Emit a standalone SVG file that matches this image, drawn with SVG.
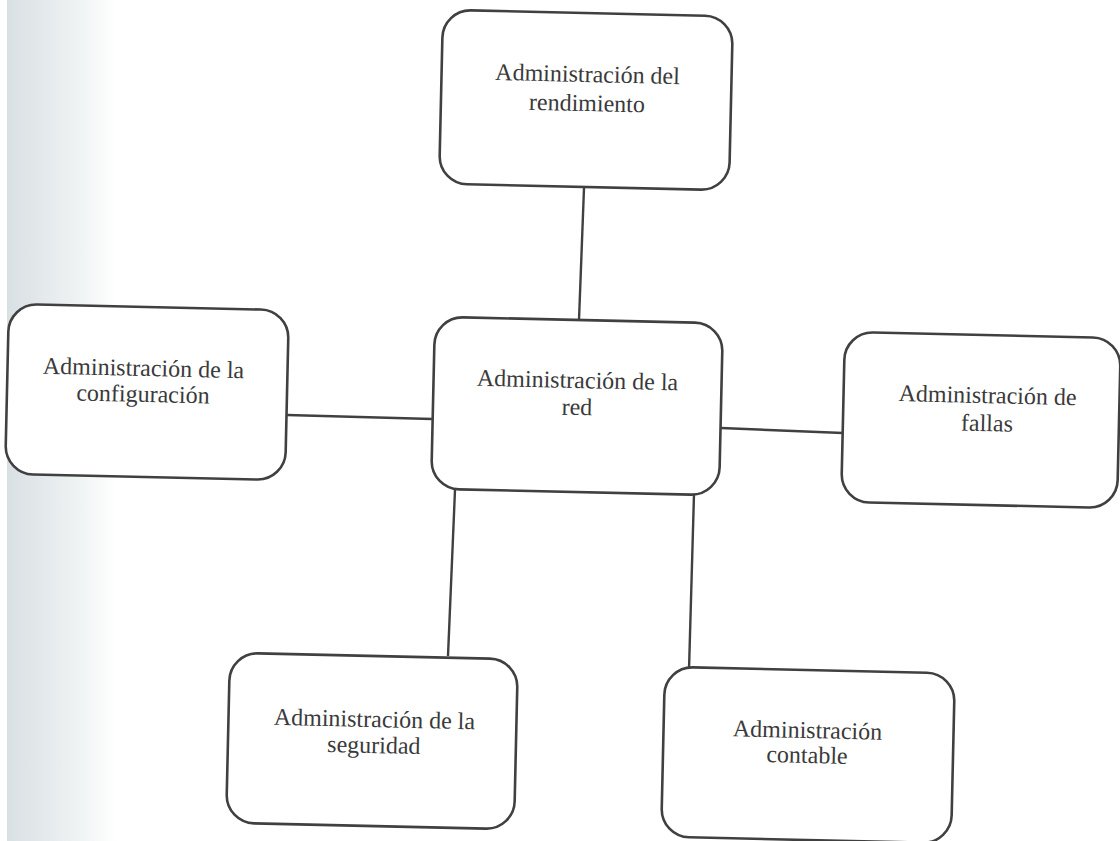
<svg xmlns="http://www.w3.org/2000/svg" width="1120" height="841" viewBox="0 0 1120 841">
<defs>
<linearGradient id="scan" x1="0" y1="0" x2="1" y2="0">
<stop offset="0" stop-color="#d9e0e3"/>
<stop offset="0.6" stop-color="#edf1f2"/>
<stop offset="1" stop-color="#ffffff"/>
</linearGradient>
<style>
.box{fill:#ffffff;stroke:#404040;stroke-width:2.6}
.lbl{font-family:"Liberation Serif","Times New Roman",serif;font-size:24px;fill:#3a3a3a;text-anchor:middle}
.conn{stroke:#404040;stroke-width:2.4;fill:none}
</style>
</defs>
<rect x="0" y="0" width="1120" height="841" fill="#ffffff"/>
<rect x="7" y="0" width="110" height="841" fill="url(#scan)"/>
<g id="connectors">
<line class="conn" x1="584" y1="188" x2="579" y2="320"/>
<line class="conn" x1="287" y1="415" x2="432" y2="419"/>
<line class="conn" x1="721" y1="428" x2="843" y2="433"/>
<line class="conn" x1="455" y1="490" x2="448" y2="656"/>
<line class="conn" x1="694" y1="494" x2="689" y2="670"/>
</g>
<g id="node-rendimiento" transform="rotate(1.3 586 100)">
<rect class="box" x="441" y="13" width="290" height="174" rx="28"/>
<text class="lbl" x="587" y="82">Administración del</text>
<text class="lbl" x="587" y="111">rendimiento</text>
</g>
<g id="node-configuracion" transform="rotate(1.3 147 392)">
<rect class="box" x="7" y="307" width="280" height="170" rx="28"/>
<text class="lbl" x="143" y="376">Administración de la</text>
<text class="lbl" x="143" y="402">configuración</text>
</g>
<g id="node-red" transform="rotate(1.3 577 406)">
<rect class="box" x="433" y="320" width="288" height="172" rx="28"/>
<text class="lbl" x="577" y="388">Administración de la</text>
<text class="lbl" x="577" y="415">red</text>
</g>
<g id="node-fallas" transform="rotate(1.3 981 420)">
<rect class="box" x="843" y="335" width="276" height="170" rx="28"/>
<text class="lbl" x="987" y="403">Administración de</text>
<text class="lbl" x="987" y="431">fallas</text>
</g>
<g id="node-seguridad" transform="rotate(1.3 372 741)">
<rect class="box" x="228" y="656" width="288" height="170" rx="28"/>
<text class="lbl" x="374" y="727">Administración de la</text>
<text class="lbl" x="374" y="753">seguridad</text>
</g>
<g id="node-contable" transform="rotate(1.3 808 755)">
<rect class="box" x="663" y="670" width="290" height="170" rx="28"/>
<text class="lbl" x="807" y="738">Administración</text>
<text class="lbl" x="807" y="763">contable</text>
</g>
</svg>
